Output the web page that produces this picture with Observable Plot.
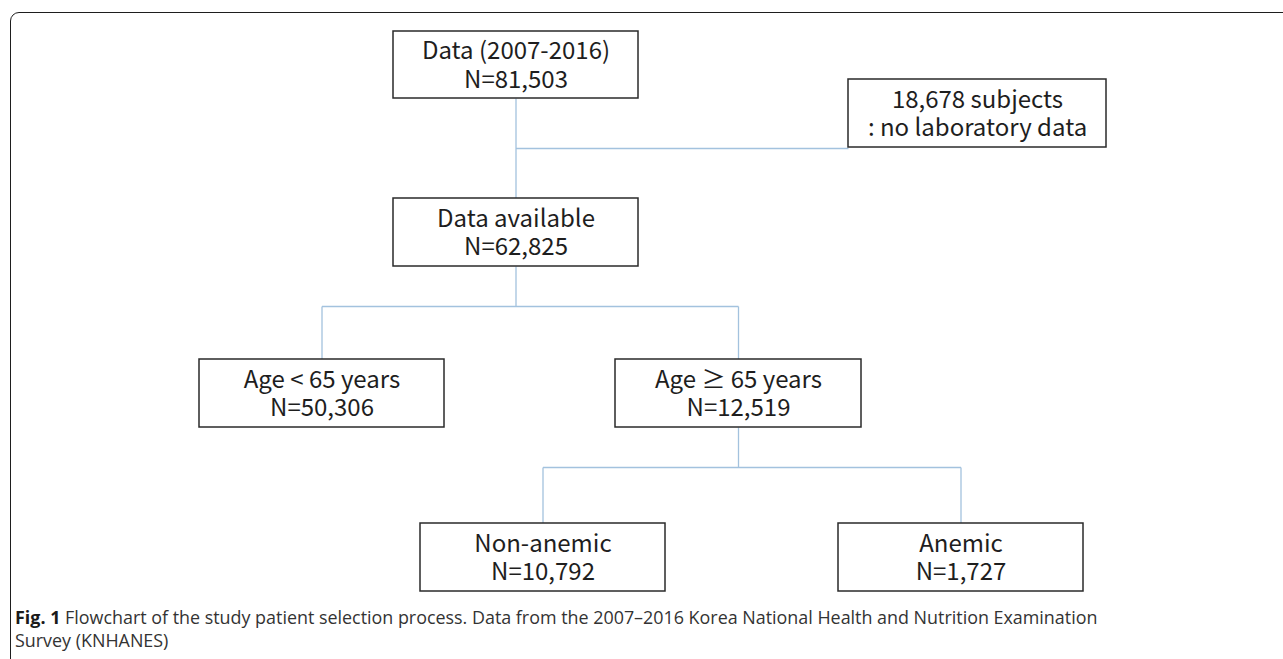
<!DOCTYPE html>
<html>
<head>
<meta charset="utf-8">
<script src="https://cdn.jsdelivr.net/npm/d3@7"></script>
<script src="https://cdn.jsdelivr.net/npm/@observablehq/plot@0.6"></script>
<style>
  html, body { margin: 0; padding: 0; background: #fff; overflow: hidden; width: 1283px; height: 659px; }
  #chart { position: absolute; left: 0; top: 0; }
  #frame { position: absolute; left: 10px; top: 12px; width: 1400px; height: 800px;
           border: 1.6px solid #1e1e1e; border-radius: 9px; pointer-events: none; }
  #caption { position: absolute; left: 15px; top: 606px; width: 1105px;
             font-family: "Open Sans", "Noto Sans", sans-serif; font-size: 17.9px; line-height: 23px; color: #333; }
  #caption b { color: #1a1a1a; font-weight: 700; }
</style>
</head>
<body>
<div id="chart"></div>
<div id="frame"></div>
<div id="caption"><b>Fig. 1</b> Flowchart of the study patient selection process. Data from the 2007–2016 Korea National Health and Nutrition Examination Survey (KNHANES)</div>
<script>
// ---- data ----
const nodeTitle = ["Data (2007-2016)", "18,678 subjects", "Data available", "Age < 65 years", "Age ≥ 65 years", "Non-anemic", "Anemic"];
const nodeSub   = ["N=81,503", ": no laboratory data", "N=62,825", "N=50,306", "N=12,519", "N=10,792", "N=1,727"];
// flow structure: parent index for each node (-1 = root); exclusion flag
const nodeParent = [-1, 0, 0, 2, 2, 4, 4];
const nodeExcluded = [false, true, false, false, false, false, false];

// ---- layout (chart units) ----
const nodeCx = [515.5, 977, 515.5, 321.5, 738, 542.5, 960.5];
const nodeCy = [64.5, 113, 232, 393, 393, 557, 557];
const nodeW  = [245, 258, 245, 245, 246, 245, 245];
const nodeH  = [67, 68, 68, 68, 68, 68, 68];

const nodes = nodeTitle.map((t, i) => ({
  title: t, sub: nodeSub[i],
  x1: nodeCx[i] - nodeW[i] / 2, x2: nodeCx[i] + nodeW[i] / 2,
  y1: nodeCy[i] - nodeH[i] / 2, y2: nodeCy[i] + nodeH[i] / 2,
  cx: nodeCx[i], cy: nodeCy[i]
}));

// connector segments derived from the structure
const segs = [];
const seen = new Set();
nodes.forEach((n, i) => {
  const p = nodeParent[i];
  if (p < 0) return;
  const P = nodes[p];
  if (nodeExcluded[i]) {
    segs.push({x1: P.cx, y1: n.y2 + 1, x2: n.x1, y2: n.y2 + 1});
    return;
  }
  const kids = nodeParent.map((q, j) => q === p && !nodeExcluded[j] ? j : -1).filter(j => j >= 0);
  if (kids.length === 1) {
    segs.push({x1: P.cx, y1: P.y2, x2: n.cx, y2: n.y1});
  } else {
    const mid = P.y2 + 40;
    if (!seen.has(p)) {
      seen.add(p);
      segs.push({x1: P.cx, y1: P.y2, x2: P.cx, y2: mid});
      const xs = kids.map(j => nodes[j].cx);
      segs.push({x1: d3.min(xs), y1: mid, x2: d3.max(xs), y2: mid});
    }
    segs.push({x1: n.cx, y1: mid, x2: n.cx, y2: n.y1});
  }
});

const font = "'Noto Sans CJK KR', 'Noto Sans', sans-serif";
const plot = Plot.plot({
  width: 1283,
  height: 600,
  margin: 0,
  style: {background: "transparent"},
  x: {domain: [0, 1283], range: [0, 1283], axis: null},
  y: {domain: [0, 600], range: [0, 600], axis: null},
  marks: [
    Plot.link(segs, {x1: "x1", y1: "y1", x2: "x2", y2: "y2", stroke: "#a3c2de", strokeWidth: 1.3}),
    Plot.rect(nodes, {x1: "x1", x2: "x2", y1: "y1", y2: "y2", fill: "white", stroke: "#2a2a2a", strokeWidth: 1.5}),
    Plot.text(nodes, {x: "cx", y: "cy", text: "title", dy: -13.5, fontSize: 24, fill: "#1e1e1e", fontFamily: font}),
    Plot.text(nodes, {x: "cx", y: "cy", text: "sub", dy: 15, fontSize: 24, fill: "#1e1e1e", fontFamily: font})
  ]
});
document.getElementById("chart").appendChild(plot);
</script>
</body>
</html>
